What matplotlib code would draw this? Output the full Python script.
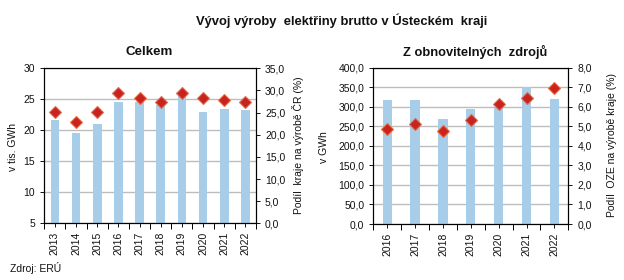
import matplotlib.pyplot as plt
import numpy as np

plt.rcParams['font.family'] = ['Liberation Sans', 'DejaVu Sans']

# data
years_all = ['2013', '2014', '2015', '2016', '2017', '2018', '2019', '2020', '2021', '2022']
total_twh = [21.7, 19.6, 21.0, 24.6, 24.6, 24.1, 25.5, 23.0, 23.4, 23.3]
total_share = [25.1, 22.8, 25.1, 29.5, 28.3, 27.5, 29.5, 28.3, 27.8, 27.5]

years_oze = ['2016', '2017', '2018', '2019', '2020', '2021', '2022']
oze_gwh = [317, 317, 268, 294, 297, 350, 320]
oze_share = [4.86, 5.12, 4.76, 5.32, 6.14, 6.45, 6.96]

W, H = 624, 280
bar_c = '#A7CDE8'
mk_c = '#C8231E'
mk_e = '#E56A45'
txt = '#111111'
fs = 7.5

fig = plt.figure(figsize=(W / 100, H / 100), dpi=100)


def rect(x0, y0, x1, y1):
    return [x0 / W, (H - y1) / H, (x1 - x0) / W, (y1 - y0) / H]


def style(ax, ax2):
    for a in (ax, ax2):
        for s in a.spines.values():
            s.set_color('black')
            s.set_linewidth(0.8)
        a.tick_params(labelsize=fs, colors=txt, length=3, width=0.7)
    ax.yaxis.grid(True, color='#BDBDBD', linewidth=1)
    ax.set_axisbelow(True)


def xticks(ax, labels):
    n = len(labels)
    ax.set_xlim(-0.5, n - 0.5)
    ax.set_xticks(np.arange(n))
    ax.set_xticklabels(labels, rotation=90)
    ax.tick_params(axis='x', length=0, pad=3)
    ax.set_xticks(np.arange(n + 1) - 0.5, minor=True)
    ax.tick_params(axis='x', which='minor', length=4, width=0.7)


def label(s, cx, cy, length=None, rot=0, bold=False, size=fs):
    # text centred at pixel (cx, cy); titles are scaled to the measured length
    t = fig.text(cx / W, 1 - cy / H, s, ha='center', va='center', rotation=rot,
                 fontsize=size, fontweight='bold' if bold else 'normal', color=txt)
    if length:
        r = fig.canvas.get_renderer()
        bb = t.get_window_extent(r)
        cur = bb.height if rot else bb.width
        t.set_fontsize(size * length / cur)
    return t


# left chart
ax = fig.add_axes(rect(44.3, 68.3, 256, 223.3))
ax2 = ax.twinx()
x = np.arange(len(years_all))
ax.bar(x, total_twh, width=0.41, color=bar_c, zorder=2)
ax2.plot(x, total_share, 'D', ms=6.3, color=mk_c, mec=mk_e, mew=0.8, zorder=3)
ax.set_ylim(5, 30)
ax.set_yticks(range(5, 31, 5))
ax2.set_ylim(0, 35)
ax2.set_yticks(np.arange(0, 36, 5))
ax2.set_yticklabels([f'{v:.1f}'.replace('.', ',') for v in np.arange(0, 36, 5)])
xticks(ax, years_all)
style(ax, ax2)

# right chart
bx = fig.add_axes(rect(373.3, 67.7, 568.3, 224))
bx2 = bx.twinx()
x = np.arange(len(years_oze))
bx.bar(x, oze_gwh, width=0.33, color=bar_c, zorder=2)
bx2.plot(x, oze_share, 'D', ms=6.3, color=mk_c, mec=mk_e, mew=0.8, zorder=3)
bx.set_ylim(0, 400)
bx.set_yticks(range(0, 401, 50))
bx.set_yticklabels([f'{v:.1f}'.replace('.', ',') for v in range(0, 401, 50)])
bx2.set_ylim(0, 8)
bx2.set_yticks(range(0, 9))
bx2.set_yticklabels([f'{v:.1f}'.replace('.', ',') for v in range(0, 9)])
xticks(bx, years_oze)
style(bx, bx2)

# texts
label('Vývoj výroby  elektřiny brutto v Ústeckém  kraji', 341.5, 21, 293, bold=True, size=9)
label('Celkem', 149, 52, 48, bold=True, size=9.5)
label('Z obnovitelných  zdrojů', 475, 52, 145, bold=True, size=9.5)
label('v tis. GWh', 13, 147, rot=90)
label('Podíl  kraje na výrobě ČR (%)', 297.5, 145, rot=90)
label('v GWh', 324, 147, rot=90)
label('Podíl  OZE na výrobě kraje (%)', 612, 145, rot=90)
label('Zdroj: ERÚ', 36, 268.5)

fig.savefig('out.png', dpi=100)
